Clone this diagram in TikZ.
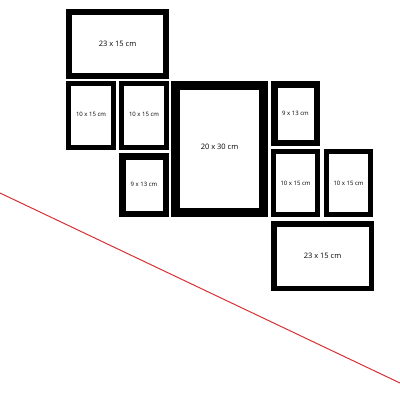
\documentclass[tikz,border=0pt]{standalone}
\usepackage{fontspec}
\setmainfont{Open Sans}
\definecolor{cutred}{RGB}{214,48,52}
\tikzset{
  big/.style={font=\fontsize{7.5}{9}\selectfont},
  small/.style={font=\fontsize{6}{7}\selectfont}
}
\begin{document}
\begin{tikzpicture}[x=1pt,y=-1pt]

\useasboundingbox (0,0) rectangle (400,400);

% top row
\draw[line width=6] (69,12) rectangle (166,76);
\node[big] (topwide) at (117.5,44) {23 x 15 cm};

% left column
\draw[line width=5] (68.5,83.5) rectangle (113.5,147.5);
\node[small] (leftA) at (91,114) {10 x 15 cm};
\draw[line width=5] (121.5,83.5) rectangle (166.5,147.5);
\node[small] (leftB) at (144,114) {10 x 15 cm};
\draw[line width=6.5] (122.25,156.25) rectangle (165.75,213.75);
\node[small] (leftC) at (144,184.5) {9 x 13 cm};

% centre
\draw[line width=9] (175.5,85.5) rectangle (263.5,212.5);
\node[big] (centre) at (219.5,147) {20 x 30 cm};

% right column
\draw[line width=6.5] (274.25,84.25) rectangle (316.75,142.75);
\node[small] (rightA) at (295.5,113) {9 x 13 cm};
\draw[line width=5] (273.5,151.5) rectangle (317.5,214.5);
\node[small] (rightB) at (295.5,183) {10 x 15 cm};
\draw[line width=5] (326.5,151.5) rectangle (370.5,214.5);
\node[small] (rightC) at (348.5,183) {10 x 15 cm};

% bottom
\draw[line width=5.5] (273.75,223.75) rectangle (371.25,288.25);
\node[big] (botwide) at (322.5,256) {23 x 15 cm};

\draw[cutred, line width=1] (0,193) -- (400,383);

\end{tikzpicture}
\end{document}
